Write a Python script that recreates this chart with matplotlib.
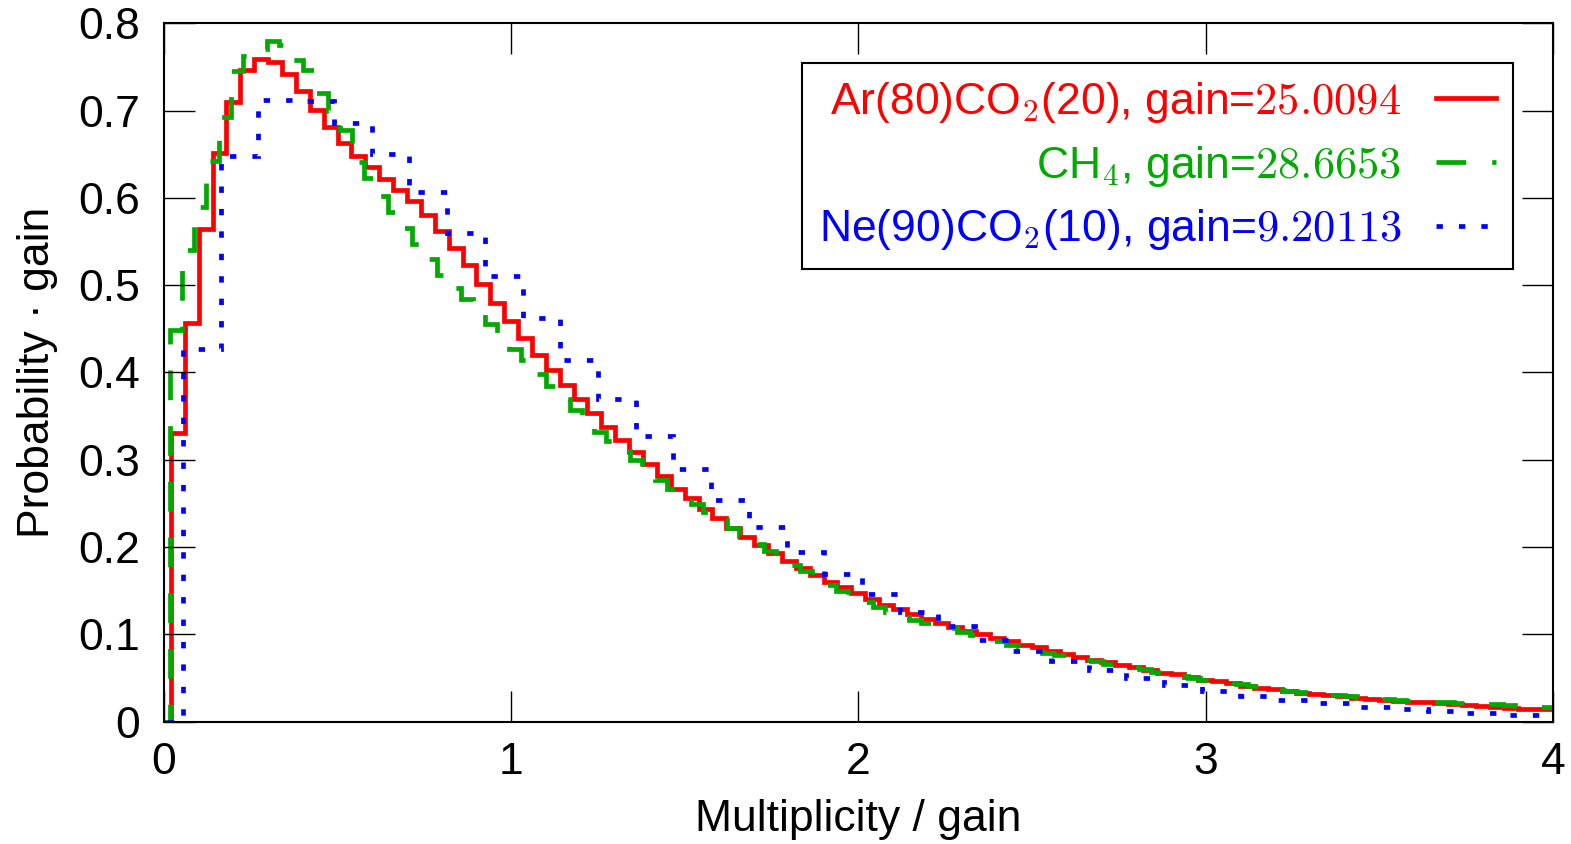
import numpy as np
import matplotlib

matplotlib.use("Agg")
import matplotlib.pyplot as plt
from matplotlib.lines import Line2D
from matplotlib.ticker import FuncFormatter, MultipleLocator

plt.rcParams["font.family"] = ["Liberation Sans", "DejaVu Sans"]
plt.rcParams["mathtext.fontset"] = "cm"

# gains (bin width = 1/gain, bins centred on multiplicity n / gain)
gain_ar = 25.0094
gain_ch4 = 28.6653
gain_ne = 9.20113

# probability * gain for multiplicity n = 0, 1, 2, ...
ar_co2 = [
    0.0, 0.331, 0.457, 0.564, 0.651, 0.710, 0.746, 0.759, 0.756, 0.742,
    0.722, 0.701, 0.681, 0.663, 0.648, 0.635, 0.622, 0.609, 0.596, 0.580,
    0.562, 0.543, 0.523, 0.501, 0.480, 0.459, 0.439, 0.420, 0.403, 0.386,
    0.369, 0.353, 0.338, 0.323, 0.309, 0.295, 0.281, 0.267, 0.256, 0.244,
    0.233, 0.222, 0.212, 0.202, 0.193, 0.184, 0.176, 0.168, 0.160, 0.154,
    0.147, 0.140, 0.134, 0.129, 0.123, 0.118, 0.113, 0.108, 0.104, 0.100,
    0.096, 0.092, 0.088, 0.085, 0.081, 0.078, 0.074, 0.071, 0.068, 0.065,
    0.062, 0.059, 0.056, 0.054, 0.051, 0.048, 0.046, 0.044, 0.041, 0.039,
    0.037, 0.035, 0.033, 0.032, 0.030, 0.029, 0.027, 0.026, 0.025, 0.024,
    0.023, 0.022, 0.021, 0.020, 0.019, 0.018, 0.017, 0.016, 0.015, 0.015,
    0.014,
]

ch4 = [
    0.0, 0.449, 0.540, 0.590, 0.642, 0.692, 0.745, 0.763, 0.771, 0.780,
    0.775, 0.758, 0.746, 0.720, 0.699, 0.678, 0.641, 0.623, 0.602, 0.584,
    0.565, 0.547, 0.530, 0.512, 0.497, 0.484, 0.468, 0.455, 0.440, 0.427,
    0.414, 0.398, 0.384, 0.370, 0.357, 0.342, 0.332, 0.321, 0.310, 0.300,
    0.287, 0.277, 0.267, 0.258, 0.249, 0.240, 0.231, 0.222, 0.213, 0.204,
    0.196, 0.188, 0.179, 0.172, 0.165, 0.156, 0.150, 0.144, 0.137, 0.131,
    0.126, 0.120, 0.116, 0.113, 0.111, 0.107, 0.103, 0.099, 0.095, 0.092,
    0.088, 0.085, 0.081, 0.079, 0.076, 0.073, 0.071, 0.069, 0.066, 0.064,
    0.062, 0.060, 0.057, 0.055, 0.052, 0.050, 0.048, 0.046, 0.044, 0.043,
    0.041, 0.039, 0.036, 0.035, 0.034, 0.033, 0.031, 0.030, 0.029, 0.027,
    0.026, 0.026, 0.025, 0.024, 0.023, 0.022, 0.022, 0.021, 0.021, 0.020,
    0.020, 0.019, 0.018, 0.018, 0.017, 0.017,
]

ne_co2 = [
    0.0, 0.4265, 0.648, 0.712, 0.711, 0.686, 0.650, 0.607, 0.560, 0.511,
    0.462, 0.414, 0.3695, 0.3275, 0.289, 0.254, 0.2225, 0.194, 0.169, 0.1465,
    0.126, 0.109, 0.094, 0.081, 0.069, 0.059, 0.050, 0.042, 0.0354, 0.0297,
    0.0247, 0.021, 0.0171, 0.0141, 0.0118, 0.0095, 0.0076, 0.0057,
]

labels = [
    r"Ar(80)CO$_2$(20), gain=$25.0094$",
    r"CH$_4$, gain=$28.6653$",
    r"Ne(90)CO$_2$(10), gain=$9.20113$",
]
colors = ["#ff0000", "#00aa00", "#0000ff"]
styles = ["-", (0, (6.3, 5.5)), (0, (1.35, 3.4))]

fig = plt.figure(figsize=(15.71, 8.44), dpi=100)
ax = fig.add_axes([0.1044, 0.145, 0.8841, 0.8275])

lw = 3.4
fs = 32
handles = []
for vals, gain, c, ls, lab in zip([ar_co2, ch4, ne_co2],
                                   [gain_ar, gain_ch4, gain_ne],
                                   colors, styles, labels):
    edges = (np.arange(len(vals) + 1) - 0.5) / gain
    ax.stairs(vals, edges, baseline=None, color=c, lw=lw, linestyle=ls)
    handles.append(Line2D([], [], color=c, lw=lw, linestyle=ls))

ax.set_xlim(0, 4)
ax.set_ylim(0, 0.8)
ax.xaxis.set_major_locator(MultipleLocator(1))
ax.yaxis.set_major_locator(MultipleLocator(0.1))
ax.yaxis.set_major_formatter(FuncFormatter(lambda v, p: "0" if abs(v) < 1e-9 else f"{v:.1f}"))
ax.tick_params(direction="in", length=22, width=1.0, top=True, right=True,
               labelsize=fs, color="black")
ax.tick_params(axis="x", pad=15)
ax.tick_params(axis="y", pad=17)
for sp in ax.spines.values():
    sp.set_linewidth(1.5)

ax.set_xlabel("Multiplicity / gain", fontsize=fs, labelpad=11)
ax.set_ylabel("Probability \u00b7 gain", fontsize=fs, labelpad=15)

leg = ax.legend(handles, labels, loc="upper right", bbox_to_anchor=(0.971, 0.943),
                borderaxespad=0, fontsize=fs, markerfirst=False,
                labelcolor="linecolor", fancybox=False, edgecolor="black",
                framealpha=1, handlelength=1.35, handletextpad=0.77,
                labelspacing=0.42, borderpad=0.38)
leg.get_frame().set_linewidth(1.5)

fig.savefig("out.png", dpi=100)
